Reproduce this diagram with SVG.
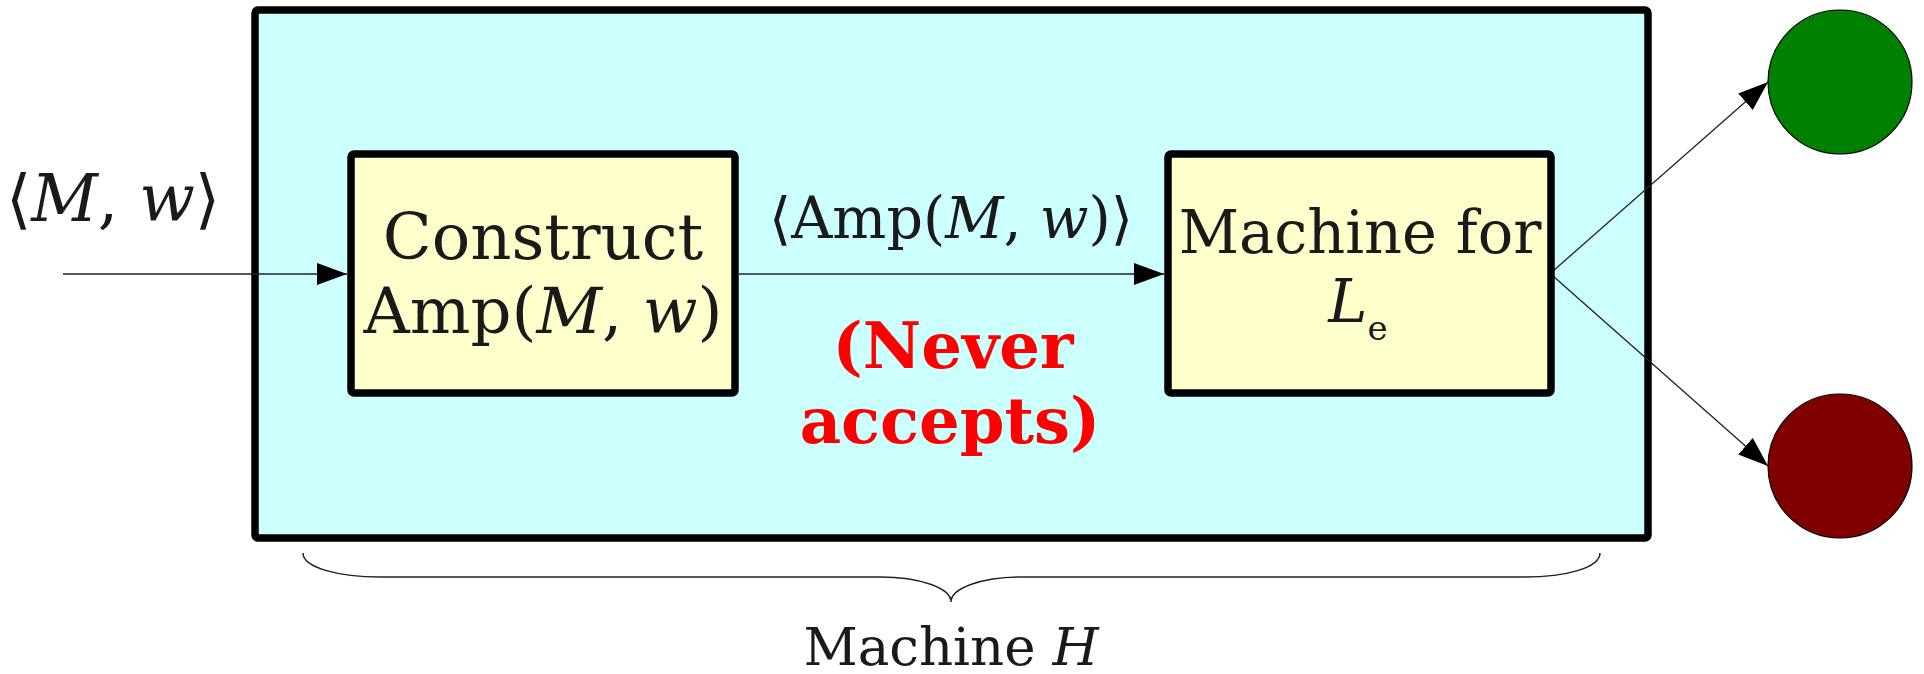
<svg xmlns="http://www.w3.org/2000/svg" width="1924" height="674" viewBox="0 0 1924 674">
<defs>
<marker id="ah" markerUnits="userSpaceOnUse" markerWidth="32" markerHeight="24" refX="30" refY="11" orient="auto">
<path d="M0,0 L30,11 L0,22 z" fill="#000"/>
</marker>
<style>
.t{font-family:"DejaVu Serif","Liberation Serif",serif;fill:#1a1a1a;text-anchor:middle}
.i{font-style:italic}
.box{fill:#ffffcc;stroke:#000;stroke-width:7.5;stroke-linejoin:round}
.conn{stroke:#222;stroke-width:1.3;fill:none}
.red{font-family:"DejaVu Serif","Liberation Serif",serif;fill:#ff0000;font-weight:bold;text-anchor:middle;font-size:64px}
</style>
</defs>
<g id="machineH">
<rect x="255" y="10" width="1393" height="528" rx="3" fill="#ccffff" stroke="#000" stroke-width="7.5"/>
</g>
<g id="connectors">
<line class="conn" x1="63" y1="274" x2="347" y2="274" marker-end="url(#ah)"/>
<line class="conn" x1="739" y1="274" x2="1164" y2="274" marker-end="url(#ah)"/>
<line class="conn" x1="1553" y1="271" x2="1768" y2="82" marker-end="url(#ah)"/>
<line class="conn" x1="1553" y1="276" x2="1768" y2="466" marker-end="url(#ah)"/>
</g>
<g id="construct">
<rect class="box" x="351" y="154" width="384" height="239" rx="3"/>
<text class="t" x="543" y="259" font-size="64">Construct</text>
<text class="t" x="543" y="333" font-size="64">Amp(<tspan class="i">M</tspan>, <tspan class="i">w</tspan>)</text>
</g>
<g id="machineLe">
<rect class="box" x="1168" y="154" width="383" height="239" rx="3"/>
<text class="t" x="1360" y="253" font-size="59">Machine for</text>
<text class="t" x="1358" y="322" font-size="59"><tspan class="i">L</tspan><tspan font-size="34" dy="18">e</tspan></text>
</g>
<g id="labels">
<text class="t" x="113" y="221" font-size="65">⟨<tspan class="i">M</tspan>, <tspan class="i">w</tspan>⟩</text>
<text class="t" x="951" y="238" font-size="57">⟨Amp(<tspan class="i">M</tspan>, <tspan class="i">w</tspan>)⟩</text>
<text class="red" x="953" y="368">(Never</text>
<text class="red" x="950" y="443">accepts)</text>
</g>
<g id="accept">
<circle cx="1840" cy="82" r="72" fill="#008000" stroke="#000" stroke-width="1.2"/>
</g>
<g id="reject">
<circle cx="1840" cy="466" r="72" fill="#800000" stroke="#000" stroke-width="1.2"/>
</g>
<g id="brace">
<path d="M303,553 C303,568 340,577 380,577 L880,577 C920,577 951,588 951,602 C951,588 982,577 1022,577 L1525,577 C1565,577 1600,568 1600,553" fill="none" stroke="#222" stroke-width="1.5"/>
<text class="t" x="951" y="665" font-size="53">Machine <tspan class="i">H</tspan></text>
</g>
</svg>
